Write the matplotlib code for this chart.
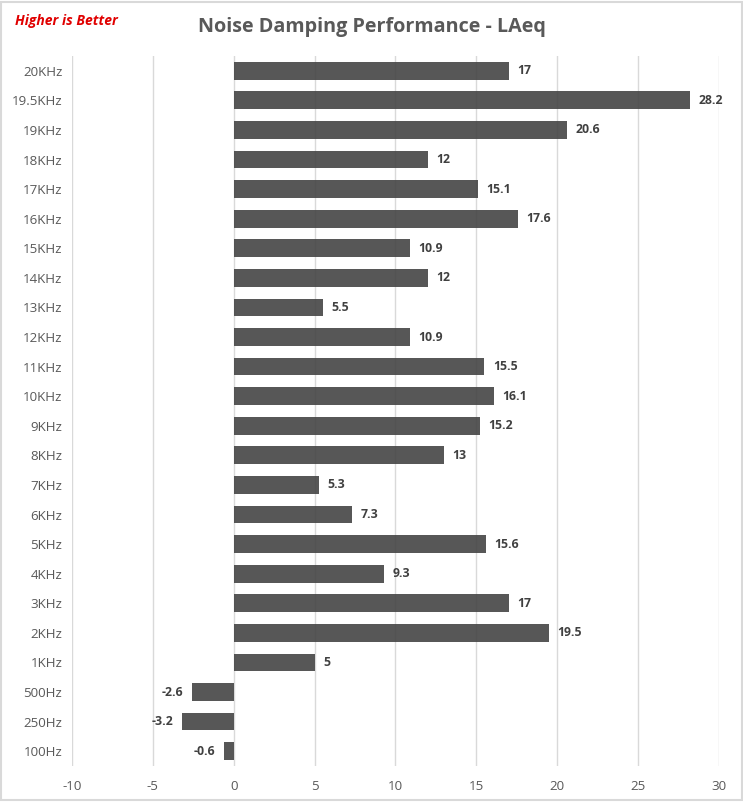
import matplotlib.pyplot as plt
import matplotlib.patches as patches

# frequencies, top to bottom as shown
freqs = ["20KHz", "19.5KHz", "19KHz", "18KHz", "17KHz", "16KHz", "15KHz", "14KHz",
         "13KHz", "12KHz", "11KHz", "10KHz", "9KHz", "8KHz", "7KHz", "6KHz",
         "5KHz", "4KHz", "3KHz", "2KHz", "1KHz", "500Hz", "250Hz", "100Hz"]
damping = [17, 28.2, 20.6, 12, 15.1, 17.6, 10.9, 12,
           5.5, 10.9, 15.5, 16.1, 15.2, 13, 5.3, 7.3,
           15.6, 9.3, 17, 19.5, 5, -2.6, -3.2, -0.6]
xticks = [-10, -5, 0, 5, 10, 15, 20, 25, 30]

plt.rcParams["font.family"] = ["Open Sans", "DejaVu Sans"]
plt.rcParams["axes.unicode_minus"] = False

fig = plt.figure(figsize=(7.43, 8.02), dpi=100)
ax = fig.add_axes([0.0969, 0.0449, 0.8708, 0.8853])

ypos = list(range(len(freqs)))
ax.barh(ypos, damping, height=0.6, color="#404040", alpha=0.88, zorder=3)

for y, v in zip(ypos, damping):
    if v >= 0:
        ax.annotate(f"{v:g}", (v, y), xytext=(6, 0), textcoords="offset points",
                    ha="left", va="center", fontsize=8.8, fontweight="bold", color="#404040")
    else:
        ax.annotate(f"{v:g}", (v, y), xytext=(-6, 0), textcoords="offset points",
                    ha="right", va="center", fontsize=8.8, fontweight="bold", color="#404040")

ax.set_xlim(-10, 30)
ax.set_ylim(len(freqs) - 0.5, -0.5)
ax.set_xticks(xticks)
ax.set_yticks(ypos)
ax.set_yticklabels(freqs)
ax.tick_params(axis="both", length=0, labelsize=9.6, colors="#595959")
ax.tick_params(axis="y", pad=7)
ax.tick_params(axis="x", pad=10)
ax.grid(axis="x", color="#d9d9d9", linewidth=1, zorder=0)
for s in ax.spines.values():
    s.set_visible(False)

fig.text(0.5, 0.966, "Noise Damping Performance - LAeq", ha="center", va="center",
         fontsize=14.2, fontweight="bold", color="#595959")
fig.text(0.02, 0.974, "Higher is Better", ha="left", va="center",
         fontsize=10, fontweight="bold", style="italic", color="#e00000")

# light border round the chart
fig.patches.append(patches.Rectangle((0.002, 0.002), 0.996, 0.996, transform=fig.transFigure,
                                     fill=False, edgecolor="#d9d9d9", linewidth=1.5))

fig.savefig("out.png", dpi=100)
